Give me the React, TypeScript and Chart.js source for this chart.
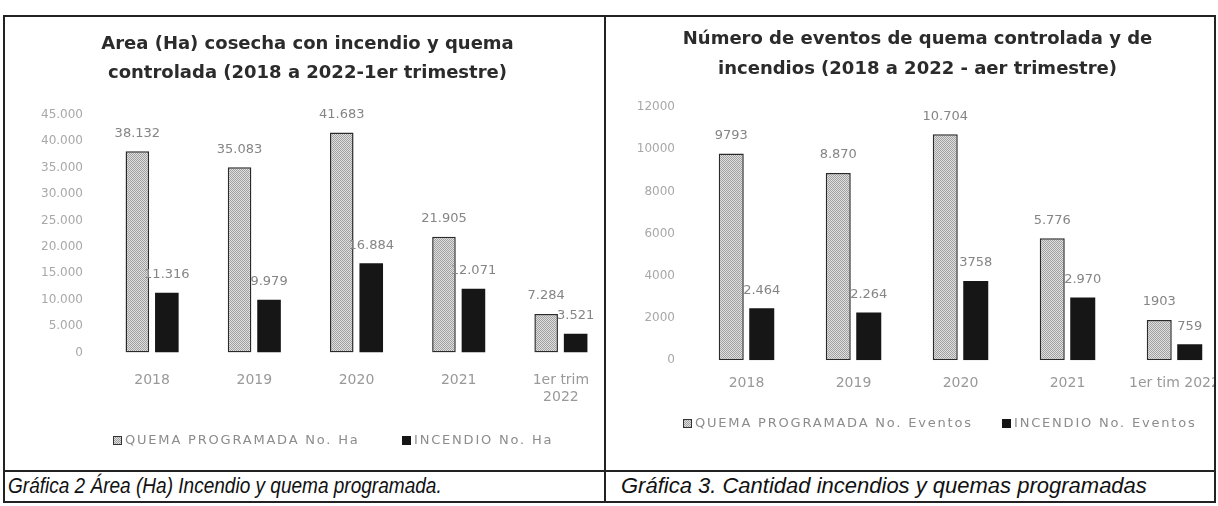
import React, { useEffect, useRef } from "react";
import { Chart, registerables } from "chart.js";

Chart.register(...registerables);

// ---------- Data: Gráfica 2 (Área, Ha) ----------
const categoriesHa: (string | string[])[] = ["2018", "2019", "2020", "2021", ["1er trim", "2022"]];
const quemaHa = [38132, 35083, 41683, 21905, 7284];
const incendioHa = [11316, 9979, 16884, 12071, 3521];
const quemaHaText = ["38.132", "35.083", "41.683", "21.905", "7.284"];
const incendioHaText = ["11.316", "9.979", "16.884", "12.071", "3.521"];
const tickLabelsHa = ["0", "5.000", "10.000", "15.000", "20.000", "25.000", "30.000", "35.000", "40.000", "45.000"];
const titleHa = ["Area (Ha) cosecha con incendio y quema", "controlada (2018 a 2022-1er trimestre)"];
const seriesNamesHa = ["QUEMA PROGRAMADA No. Ha", "INCENDIO No. Ha"];
const captionHa = "Gráfica 2 Área (Ha) Incendio y quema programada.";

// ---------- Data: Gráfica 3 (Eventos) ----------
const categoriesEv: (string | string[])[] = ["2018", "2019", "2020", "2021", "1er tim 2022"];
const quemaEv = [9793, 8870, 10704, 5776, 1903];
const incendioEv = [2464, 2264, 3758, 2970, 759];
const quemaEvText = ["9793", "8.870", "10.704", "5.776", "1903"];
const incendioEvText = ["2.464", "2.264", "3758", "2.970", "759"];
const tickLabelsEv = ["0", "2000", "4000", "6000", "8000", "10000", "12000"];
const titleEv = ["Número de eventos de quema controlada y de", "incendios (2018 a 2022 - aer trimestre)"];
const seriesNamesEv = ["QUEMA PROGRAMADA No. Eventos", "INCENDIO No. Eventos"];
const captionEv = "Gráfica 3. Cantidad incendios y quemas programadas";

function makePattern(): CanvasPattern | string {
  const c = document.createElement("canvas");
  c.width = 2;
  c.height = 2;
  const x = c.getContext("2d");
  if (!x) return "#c4c4c4";
  x.fillStyle = "#e0e0e0";
  x.fillRect(0, 0, 2, 2);
  x.fillStyle = "#a0a0a0";
  x.fillRect(0, 0, 1, 1);
  x.fillRect(1, 1, 1, 1);
  return x.createPattern(c, "repeat") || "#c4c4c4";
}

type PanelSpec = {
  labels: (string | string[])[];
  quema: number[];
  incendio: number[];
  quemaText: string[];
  incendioText: string[];
  tickLabels: string[];
  max: number;
  step: number;
  title: string[];
  names: string[];
  width: number;
  height: number;
  titlePad: { top: number; bottom: number };
  titleLineHeight: number;
  padRight: number;
  padBottom: number;
  axisWidth: number;
  xPad: number;
  catPct: number;
  barPct: number;
  legendY: number;
  legendDx: number[];
};

function buildChart(canvas: HTMLCanvasElement, s: PanelSpec) {
  const pattern = makePattern();
  const texts = [s.quemaText, s.incendioText];

  const valueLabels = {
    id: "valueLabels",
    afterDatasetsDraw(chart: any) {
      const ctx = chart.ctx;
      ctx.save();
      ctx.font = "13px 'DejaVu Sans'";
      ctx.fillStyle = "#858585";
      ctx.textAlign = "center";
      ctx.textBaseline = "middle";
      chart.data.datasets.forEach((_: any, di: number) => {
        const meta = chart.getDatasetMeta(di);
        meta.data.forEach((el: any, i: number) => {
          ctx.fillText(texts[di][i], el.x, el.y - 18);
        });
      });
      ctx.restore();
    },
  };

  const legendPlugin = {
    id: "panelLegend",
    afterDraw(chart: any) {
      const ctx = chart.ctx;
      const left = chart.chartArea.left;
      ctx.save();
      ctx.textBaseline = "middle";
      ctx.textAlign = "left";
      s.names.forEach((name, i) => {
        const x = left + s.legendDx[i];
        const y = s.legendY;
        if (i === 0) {
          ctx.fillStyle = pattern;
          ctx.fillRect(x, y - 4, 9, 9);
          ctx.strokeStyle = "#333";
          ctx.lineWidth = 1;
          ctx.strokeRect(x + 0.5, y - 3.5, 8, 8);
        } else {
          ctx.fillStyle = "#151515";
          ctx.fillRect(x, y - 4, 9, 9);
        }
        ctx.font = "13px 'DejaVu Sans'";
        (ctx as any).letterSpacing = "1.8px";
        ctx.fillStyle = "#8c8c8c";
        ctx.fillText(name, x + 12, y + 1);
        (ctx as any).letterSpacing = "0px";
      });
      ctx.restore();
    },
  };

  return new Chart(canvas, {
    type: "bar",
    data: {
      labels: s.labels as any,
      datasets: [
        {
          label: s.names[0],
          data: s.quema,
          backgroundColor: pattern as any,
          borderColor: "#2a2a2a",
          borderWidth: 1.5,
          borderSkipped: false,
          categoryPercentage: s.catPct,
          barPercentage: s.barPct,
        },
        {
          label: s.names[1],
          data: s.incendio,
          backgroundColor: "#161616",
          borderWidth: 0,
          categoryPercentage: s.catPct,
          barPercentage: s.barPct,
        },
      ],
    },
    options: {
      responsive: false,
      animation: false,
      devicePixelRatio: 1,
      layout: { padding: { left: 0, right: s.padRight, top: 0, bottom: s.padBottom } },
      plugins: {
        legend: { display: false },
        tooltip: { enabled: false },
        title: {
          display: true,
          text: s.title,
          color: "#2b2b2b",
          font: { family: "'DejaVu Sans'", size: 18, weight: "bold", lineHeight: s.titleLineHeight },
          padding: s.titlePad,
        },
      },
      scales: {
        x: {
          grid: { display: false, drawTicks: false, tickLength: 0 },
          border: { display: false },
          ticks: {
            color: "#999",
            font: { family: "'DejaVu Sans'", size: 14, lineHeight: 1.2 },
            padding: s.xPad,
            maxRotation: 0,
            minRotation: 0,
            autoSkip: false,
          },
        },
        y: {
          min: 0,
          max: s.max,
          grid: { display: false, drawTicks: false, tickLength: 0 },
          border: { display: false },
          ticks: {
            stepSize: s.step,
            color: "#a8a8a8",
            font: { family: "'DejaVu Sans'", size: 12 },
            padding: 18,
            callback: (_v: any, i: number) => s.tickLabels[i],
          },
          afterFit: (scale: any) => {
            scale.width = s.axisWidth;
          },
        },
      },
    },
    plugins: [valueLabels, legendPlugin],
  });
}

function Panel({ spec, style, canvasLeft }: { spec: PanelSpec; style: React.CSSProperties; canvasLeft: number }) {
  const ref = useRef<HTMLCanvasElement>(null);
  useEffect(() => {
    if (!ref.current) return;
    const chart = buildChart(ref.current, spec);
    return () => chart.destroy();
  }, []);
  return (
    <div style={{ position: "absolute", overflow: "hidden", ...style }}>
      <canvas
        ref={ref}
        width={spec.width}
        height={spec.height}
        style={{ position: "absolute", left: canvasLeft, top: 0, width: spec.width, height: spec.height }}
      />
    </div>
  );
}

const specHa: PanelSpec = {
  labels: categoriesHa,
  quema: quemaHa,
  incendio: incendioHa,
  quemaText: quemaHaText,
  incendioText: incendioHaText,
  tickLabels: tickLabelsHa,
  max: 45000,
  step: 5000,
  title: titleHa,
  names: seriesNamesHa,
  width: 634,
  height: 454,
  titlePad: { top: 13, bottom: 27 },
  titleLineHeight: 1.61,
  padRight: 25,
  padBottom: 45,
  axisWidth: 98,
  xPad: 20,
  catPct: 0.577,
  barPct: 0.8,
  legendY: 423,
  legendDx: [12, 301],
};

const specEv: PanelSpec = {
  labels: categoriesEv,
  quema: quemaEv,
  incendio: incendioEv,
  quemaText: quemaEvText,
  incendioText: incendioEvText,
  tickLabels: tickLabelsEv,
  max: 12000,
  step: 2000,
  title: titleEv,
  names: seriesNamesEv,
  width: 654,
  height: 454,
  titlePad: { top: 7, bottom: 23 },
  titleLineHeight: 1.667,
  padRight: 33,
  padBottom: 64,
  axisWidth: 86,
  xPad: 15,
  catPct: 0.57,
  barPct: 0.82,
  legendY: 406,
  legendDx: [-10, 309],
};

const line = (l: number, t: number, w: number, h: number): React.CSSProperties => ({
  position: "absolute",
  left: l,
  top: t,
  width: w,
  height: h,
  background: "#222",
});

const captionStyle: React.CSSProperties = {
  position: "absolute",
  top: 472,
  fontFamily: "'Liberation Sans Narrow', 'Liberation Sans', sans-serif",
  fontStyle: "italic",
  fontSize: 22,
  lineHeight: "28px",
  color: "#111",
  whiteSpace: "nowrap",
  transformOrigin: "left center",
};

export default function App() {
  return (
    <div style={{ position: "absolute", left: 0, top: 0, width: 1218, height: 506, background: "#fff", overflow: "hidden" }}>
      <Panel spec={specHa} style={{ left: 4, top: 17, width: 601, height: 454 }} canvasLeft={-1} />
      <Panel spec={specEv} style={{ left: 606, top: 17, width: 608, height: 454 }} canvasLeft={1} />
      <div style={line(3, 15, 1213, 2)} />
      <div style={line(3, 15, 2, 488)} />
      <div style={line(604, 15, 2, 488)} />
      <div style={line(1214, 15, 2, 488)} />
      <div style={line(3, 470, 1213, 2)} />
      <div style={line(3, 501, 1213, 2)} />
      <div style={{ ...captionStyle, left: 8, transform: "scaleX(0.865)" }}>{captionHa}</div>
      <div style={{ ...captionStyle, left: 621 }}>{captionEv}</div>
    </div>
  );
}
